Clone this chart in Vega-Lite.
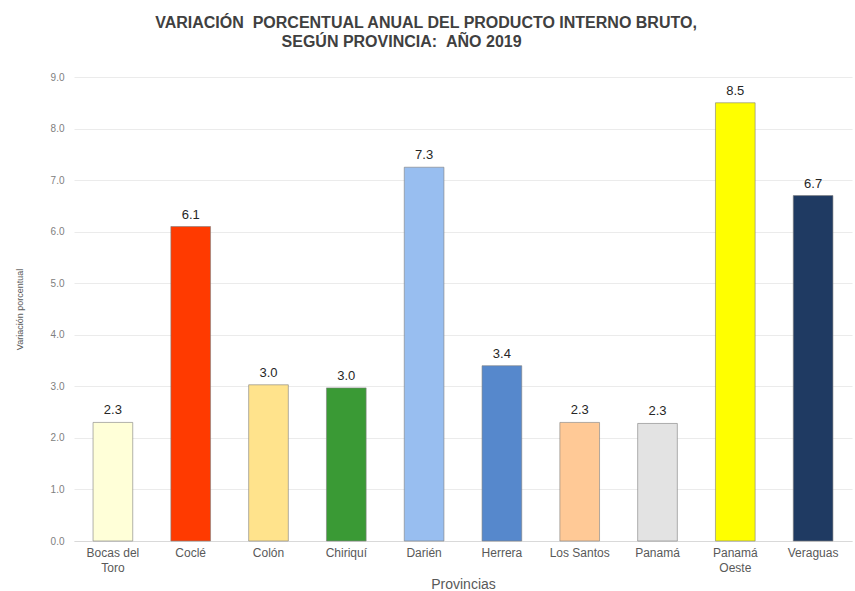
{
  "$schema": "https://vega.github.io/schema/vega-lite/v6.json",
  "width": 778,
  "height": 464,
  "autosize": {"type": "none"},
  "padding": {"left": 74, "top": 77, "right": 3, "bottom": 50},
  "background": "white",
  "config": {"view": {"stroke": null}},
  "title": {
    "text": ["VARIACIÓN\u00a0\u00a0PORCENTUAL ANUAL DEL PRODUCTO INTERNO BRUTO,", "SEGÚN PROVINCIA:\u00a0\u00a0AÑO 2019\u00a0\u00a0\u00a0\u00a0\u00a0\u00a0\u00a0\u00a0\u00a0\u00a0\u00a0\u200b"],
    "font": "Liberation Sans",
    "fontSize": 16,
    "fontWeight": "bold",
    "color": "#404040",
    "anchor": "middle",
    "dx": -37,
    "offset": 22,
    "lineHeight": 19
  },
  "data": {
    "values": [
      {"provincia": "Bocas del Toro", "valor": 2.3},
      {"provincia": "Coclé", "valor": 6.1},
      {"provincia": "Colón", "valor": 3.03},
      {"provincia": "Chiriquí", "valor": 2.97},
      {"provincia": "Darién", "valor": 7.25},
      {"provincia": "Herrera", "valor": 3.4},
      {"provincia": "Los Santos", "valor": 2.3},
      {"provincia": "Panamá", "valor": 2.28},
      {"provincia": "Panamá Oeste", "valor": 8.5},
      {"provincia": "Veraguas", "valor": 6.7}
    ]
  },
  "encoding": {
    "x": {
      "field": "provincia",
      "type": "nominal",
      "sort": null,
      "scale": {"paddingInner": 0.49, "paddingOuter": 0.245},
      "axis": {
        "title": "Provincias",
        "titleFont": "Liberation Sans",
        "titleFontSize": 14,
        "titleFontWeight": "normal",
        "titleColor": "#595959",
        "titlePadding": 4,
        "labelAngle": 0,
        "labelFont": "Liberation Sans",
        "labelFontSize": 12,
        "labelColor": "#595959",
        "labelPadding": 6,
        "labelLineHeight": 15,
        "labelExpr": "datum.label == 'Bocas del Toro' ? ['Bocas del', 'Toro'] : datum.label == 'Panamá Oeste' ? ['Panamá', 'Oeste'] : datum.label",
        "ticks": false,
        "domainColor": "#d9d9d9",
        "grid": false
      }
    },
    "y": {
      "field": "valor",
      "type": "quantitative",
      "scale": {"domain": [0, 9], "nice": false},
      "axis": {
        "title": "Variación porcentual",
        "titleFont": "Liberation Sans",
        "titleFontSize": 9,
        "titleFontWeight": "normal",
        "titleColor": "#595959",
        "titlePadding": 26,
        "values": [0, 1, 2, 3, 4, 5, 6, 7, 8, 9],
        "format": ".1f",
        "labelFont": "Liberation Sans",
        "labelFontSize": 10,
        "labelColor": "#808080",
        "labelPadding": 10,
        "ticks": false,
        "domain": false,
        "gridColor": "#ebebeb",
        "gridWidth": 1
      }
    }
  },
  "layer": [
    {
      "mark": {"type": "bar", "stroke": "#7f7f7f", "strokeOpacity": 0.6, "strokeWidth": 1},
      "encoding": {
        "color": {
          "field": "provincia",
          "type": "nominal",
          "legend": null,
          "scale": {
            "domain": ["Bocas del Toro", "Coclé", "Colón", "Chiriquí", "Darién", "Herrera", "Los Santos", "Panamá", "Panamá Oeste", "Veraguas"],
            "range": ["#FFFFD8", "#FF3A00", "#FFE38C", "#3A9A35", "#98BEF0", "#5688CC", "#FFC996", "#E3E3E3", "#FFFF00", "#1F3A62"]
          }
        }
      }
    },
    {
      "mark": {"type": "text", "dy": -12, "font": "Liberation Sans", "fontSize": 13, "color": "#262626"},
      "encoding": {
        "text": {"field": "valor", "type": "quantitative", "format": ".1f"}
      }
    }
  ]
}
